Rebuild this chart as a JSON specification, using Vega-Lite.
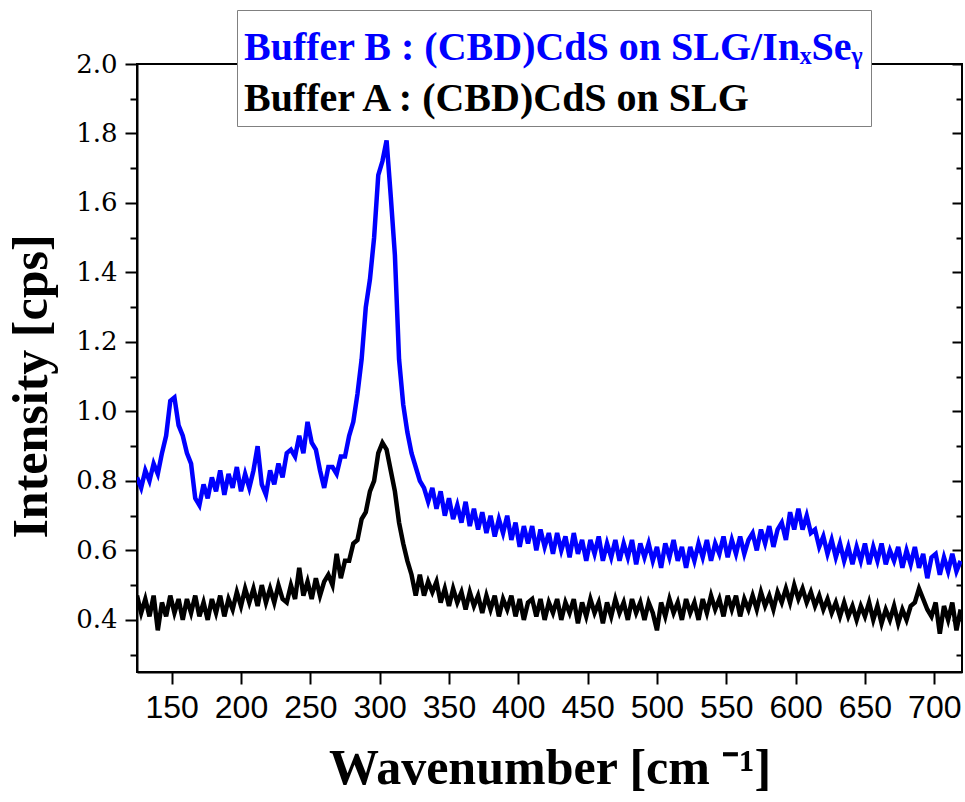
{
  "$schema": "https://vega.github.io/schema/vega-lite/v6.json",
  "width": 825,
  "height": 608,
  "autosize": {"type": "none"},
  "padding": {"left": 137, "top": 64, "right": 3, "bottom": 130},
  "background": "#ffffff",
  "config": {"view": {"stroke": "#000000", "strokeWidth": 2}},
  "data": {"values": [
    {"w":125,"B":0.81,"A":0.47},{"w":128,"B":0.78,"A":0.42},{"w":131,"B":0.83,"A":0.46},{"w":134,"B":0.80,"A":0.41},
    {"w":137,"B":0.85,"A":0.47},{"w":140,"B":0.82,"A":0.37},{"w":143,"B":0.88,"A":0.45},{"w":146,"B":0.93,"A":0.41},
    {"w":149,"B":1.03,"A":0.47},{"w":152,"B":1.04,"A":0.42},{"w":155,"B":0.96,"A":0.46},{"w":158,"B":0.93,"A":0.40},
    {"w":161,"B":0.88,"A":0.46},{"w":164,"B":0.85,"A":0.42},{"w":167,"B":0.75,"A":0.47},{"w":170,"B":0.73,"A":0.41},
    {"w":173,"B":0.79,"A":0.45},{"w":176,"B":0.75,"A":0.40},{"w":179,"B":0.81,"A":0.46},{"w":182,"B":0.77,"A":0.42},
    {"w":185,"B":0.83,"A":0.47},{"w":188,"B":0.76,"A":0.41},{"w":191,"B":0.82,"A":0.46},{"w":194,"B":0.78,"A":0.43},
    {"w":197,"B":0.84,"A":0.48},{"w":200,"B":0.77,"A":0.44},{"w":203,"B":0.82,"A":0.49},{"w":206,"B":0.78,"A":0.45},
    {"w":209,"B":0.83,"A":0.49},{"w":212,"B":0.90,"A":0.44},{"w":215,"B":0.79,"A":0.50},{"w":218,"B":0.76,"A":0.45},
    {"w":221,"B":0.83,"A":0.49},{"w":224,"B":0.79,"A":0.45},{"w":227,"B":0.85,"A":0.50},{"w":230,"B":0.81,"A":0.46},
    {"w":233,"B":0.88,"A":0.45},{"w":236,"B":0.89,"A":0.50},{"w":239,"B":0.87,"A":0.46},{"w":242,"B":0.93,"A":0.55},
    {"w":245,"B":0.88,"A":0.47},{"w":248,"B":0.97,"A":0.51},{"w":251,"B":0.91,"A":0.46},{"w":254,"B":0.89,"A":0.52},
    {"w":257,"B":0.83,"A":0.47},{"w":260,"B":0.78,"A":0.51},{"w":263,"B":0.84,"A":0.53},{"w":266,"B":0.84,"A":0.50},
    {"w":269,"B":0.82,"A":0.59},{"w":272,"B":0.87,"A":0.52},{"w":275,"B":0.87,"A":0.57},{"w":278,"B":0.93,"A":0.57},
    {"w":281,"B":0.97,"A":0.62},{"w":284,"B":1.05,"A":0.63},{"w":287,"B":1.15,"A":0.69},{"w":290,"B":1.30,"A":0.71},
    {"w":293,"B":1.38,"A":0.77},{"w":296,"B":1.50,"A":0.80},{"w":299,"B":1.68,"A":0.88},{"w":302,"B":1.72,"A":0.91},
    {"w":305,"B":1.78,"A":0.89},{"w":308,"B":1.62,"A":0.83},{"w":311,"B":1.45,"A":0.77},{"w":314,"B":1.15,"A":0.68},
    {"w":317,"B":1.02,"A":0.62},{"w":320,"B":0.94,"A":0.57},{"w":323,"B":0.88,"A":0.53},{"w":326,"B":0.84,"A":0.47},
    {"w":329,"B":0.80,"A":0.53},{"w":332,"B":0.78,"A":0.47},{"w":335,"B":0.74,"A":0.51},{"w":338,"B":0.78,"A":0.48},
    {"w":341,"B":0.72,"A":0.51},{"w":344,"B":0.77,"A":0.45},{"w":347,"B":0.70,"A":0.49},{"w":350,"B":0.75,"A":0.44},
    {"w":353,"B":0.69,"A":0.49},{"w":356,"B":0.73,"A":0.45},{"w":359,"B":0.68,"A":0.48},{"w":362,"B":0.74,"A":0.43},
    {"w":365,"B":0.67,"A":0.48},{"w":368,"B":0.72,"A":0.44},{"w":371,"B":0.66,"A":0.47},{"w":374,"B":0.71,"A":0.42},
    {"w":377,"B":0.65,"A":0.47},{"w":380,"B":0.70,"A":0.43},{"w":383,"B":0.64,"A":0.47},{"w":386,"B":0.69,"A":0.41},
    {"w":389,"B":0.65,"A":0.46},{"w":392,"B":0.70,"A":0.43},{"w":395,"B":0.63,"A":0.47},{"w":398,"B":0.68,"A":0.41},
    {"w":401,"B":0.61,"A":0.46},{"w":404,"B":0.67,"A":0.40},{"w":407,"B":0.62,"A":0.45},{"w":410,"B":0.67,"A":0.46},
    {"w":413,"B":0.60,"A":0.41},{"w":416,"B":0.66,"A":0.46},{"w":419,"B":0.61,"A":0.40},{"w":422,"B":0.65,"A":0.45},
    {"w":425,"B":0.59,"A":0.42},{"w":428,"B":0.65,"A":0.46},{"w":431,"B":0.60,"A":0.40},{"w":434,"B":0.64,"A":0.45},
    {"w":437,"B":0.58,"A":0.42},{"w":440,"B":0.65,"A":0.46},{"w":443,"B":0.59,"A":0.39},{"w":446,"B":0.63,"A":0.45},
    {"w":449,"B":0.57,"A":0.41},{"w":452,"B":0.63,"A":0.46},{"w":455,"B":0.59,"A":0.42},{"w":458,"B":0.64,"A":0.45},
    {"w":461,"B":0.57,"A":0.39},{"w":464,"B":0.62,"A":0.45},{"w":467,"B":0.58,"A":0.41},{"w":470,"B":0.63,"A":0.46},
    {"w":473,"B":0.57,"A":0.42},{"w":476,"B":0.62,"A":0.45},{"w":479,"B":0.58,"A":0.40},{"w":482,"B":0.63,"A":0.46},
    {"w":485,"B":0.56,"A":0.42},{"w":488,"B":0.62,"A":0.45},{"w":491,"B":0.58,"A":0.40},{"w":494,"B":0.62,"A":0.45},
    {"w":497,"B":0.57,"A":0.42},{"w":500,"B":0.61,"A":0.37},{"w":503,"B":0.55,"A":0.45},{"w":506,"B":0.62,"A":0.41},
    {"w":509,"B":0.58,"A":0.46},{"w":512,"B":0.63,"A":0.42},{"w":515,"B":0.57,"A":0.45},{"w":518,"B":0.61,"A":0.40},
    {"w":521,"B":0.55,"A":0.46},{"w":524,"B":0.61,"A":0.42},{"w":527,"B":0.57,"A":0.45},{"w":530,"B":0.62,"A":0.40},
    {"w":533,"B":0.58,"A":0.46},{"w":536,"B":0.63,"A":0.42},{"w":539,"B":0.57,"A":0.47},{"w":542,"B":0.62,"A":0.43},
    {"w":545,"B":0.59,"A":0.46},{"w":548,"B":0.64,"A":0.41},{"w":551,"B":0.58,"A":0.47},{"w":554,"B":0.63,"A":0.43},
    {"w":557,"B":0.59,"A":0.47},{"w":560,"B":0.64,"A":0.41},{"w":563,"B":0.59,"A":0.46},{"w":566,"B":0.63,"A":0.43},
    {"w":569,"B":0.65,"A":0.47},{"w":572,"B":0.60,"A":0.43},{"w":575,"B":0.66,"A":0.48},{"w":578,"B":0.62,"A":0.44},
    {"w":581,"B":0.67,"A":0.47},{"w":584,"B":0.61,"A":0.43},{"w":587,"B":0.66,"A":0.48},{"w":590,"B":0.68,"A":0.45},
    {"w":593,"B":0.63,"A":0.49},{"w":596,"B":0.71,"A":0.45},{"w":599,"B":0.66,"A":0.50},{"w":602,"B":0.72,"A":0.46},
    {"w":605,"B":0.66,"A":0.49},{"w":608,"B":0.70,"A":0.45},{"w":611,"B":0.65,"A":0.48},{"w":614,"B":0.66,"A":0.44},
    {"w":617,"B":0.61,"A":0.47},{"w":620,"B":0.64,"A":0.43},{"w":623,"B":0.59,"A":0.46},{"w":626,"B":0.63,"A":0.42},
    {"w":629,"B":0.58,"A":0.45},{"w":632,"B":0.62,"A":0.41},{"w":635,"B":0.57,"A":0.45},{"w":638,"B":0.61,"A":0.41},
    {"w":641,"B":0.56,"A":0.44},{"w":644,"B":0.61,"A":0.40},{"w":647,"B":0.57,"A":0.44},{"w":650,"B":0.62,"A":0.41},
    {"w":653,"B":0.56,"A":0.45},{"w":656,"B":0.61,"A":0.40},{"w":659,"B":0.57,"A":0.44},{"w":662,"B":0.62,"A":0.39},
    {"w":665,"B":0.56,"A":0.43},{"w":668,"B":0.60,"A":0.40},{"w":671,"B":0.57,"A":0.44},{"w":674,"B":0.61,"A":0.39},
    {"w":677,"B":0.55,"A":0.43},{"w":680,"B":0.60,"A":0.40},{"w":683,"B":0.56,"A":0.44},{"w":686,"B":0.61,"A":0.45},
    {"w":689,"B":0.55,"A":0.49},{"w":692,"B":0.59,"A":0.46},{"w":695,"B":0.52,"A":0.43},{"w":698,"B":0.58,"A":0.41},
    {"w":701,"B":0.59,"A":0.45},{"w":704,"B":0.53,"A":0.36},{"w":707,"B":0.58,"A":0.44},{"w":710,"B":0.54,"A":0.40},
    {"w":713,"B":0.59,"A":0.45},{"w":716,"B":0.54,"A":0.37},{"w":719,"B":0.57,"A":0.43}
  ]},
  "transform": [{"fold": ["B", "A"], "as": ["series", "value"]}],
  "encoding": {
    "x": {
      "field": "w", "type": "quantitative",
      "scale": {"domain": [125, 720], "nice": false, "zero": false},
      "axis": {
        "values": [150, 200, 250, 300, 350, 400, 450, 500, 550, 600, 650, 700],
        "grid": false,
        "domainColor": "#000000", "domainWidth": 2,
        "tickColor": "#000000", "tickWidth": 2, "tickSize": 12,
        "labelFont": "Liberation Sans Narrow, Liberation Sans", "labelFontSize": 32, "labelColor": "#000000",
        "labelPadding": 8, "labelFlush": false, "labelOverlap": false,
        "title": "Wavenumber [cm ⁻¹]",
        "titleFont": "Liberation Serif", "titleFontSize": 50, "titleFontWeight": "bold", "titleColor": "#000000",
        "titlePadding": 20
      }
    },
    "color": {
      "field": "series", "type": "nominal",
      "scale": {"domain": ["B", "A"], "range": ["#0000ff", "#000000"]},
      "legend": {
        "orient": "none", "legendX": 100, "legendY": -54,
        "title": null, "direction": "vertical",
        "fillColor": "#ffffff", "strokeColor": "#808080",
        "padding": 7, "rowPadding": -2,
        "symbolSize": 0, "symbolStrokeWidth": 0, "symbolOpacity": 0, "labelOffset": -40,
        "labelFont": "Liberation Serif", "labelFontSize": 40, "labelFontWeight": "bold", "labelLimit": 0,
        "labelExpr": "datum.value == 'B' ? 'Buffer B : (CBD)CdS on SLG/InₓSeᵧ' : 'Buffer A : (CBD)CdS on SLG'",
        "encode": {"labels": {"update": {"fill": {"signal": "datum.value == 'B' ? '#0000ff' : '#000000'"}, "dy": {"value": 10.5}}}}
      }
    }
  },
  "layer": [
    {
      "transform": [{"filter": "datum.series == 'A'"}],
      "mark": {"type": "line", "strokeWidth": 4.5, "clip": true},
      "encoding": {
        "y": {
          "field": "value", "type": "quantitative",
          "scale": {"domain": [0.25, 2.0], "nice": false, "zero": false},
          "axis": {
            "orient": "left",
            "values": [0.3, 0.4, 0.5, 0.6, 0.7, 0.8, 0.9, 1.0, 1.1, 1.2, 1.3, 1.4, 1.5, 1.6, 1.7, 1.8, 1.9, 2.0],
            "labelExpr": "round(datum.value * 10) % 2 == 0 ? format(datum.value, '.1f') : ''",
            "grid": false,
            "domainColor": "#000000", "domainWidth": 2,
            "tickColor": "#000000", "tickWidth": 2,
            "tickSize": {"condition": {"test": "round(datum.value * 10) % 2 == 0", "value": 12}, "value": 7},
            "labelFont": "DejaVu Serif", "labelFontSize": 26, "labelColor": "#000000",
            "labelPadding": 8, "labelFlush": false, "labelOverlap": false,
            "title": "Intensity [cps]",
            "titleFont": "Liberation Serif", "titleFontSize": 50, "titleFontWeight": "bold", "titleColor": "#000000",
            "titlePadding": 19, "titleY": 322
          }
        }
      }
    },
    {
      "transform": [{"filter": "datum.series == 'B'"}],
      "mark": {"type": "line", "strokeWidth": 4.5, "clip": true},
      "encoding": {
        "y": {
          "field": "value", "type": "quantitative",
          "scale": {"domain": [0.25, 2.0], "nice": false, "zero": false},
          "axis": {
            "orient": "right",
            "values": [0.3, 0.4, 0.5, 0.6, 0.7, 0.8, 0.9, 1.0, 1.1, 1.2, 1.3, 1.4, 1.5, 1.6, 1.7, 1.8, 1.9, 2.0],
            "labels": false, "domain": false, "grid": false, "title": null,
            "tickColor": "#000000", "tickWidth": 2,
            "tickSize": {"condition": {"test": "round(datum.value * 10) % 2 == 0", "value": -10}, "value": -6}
          }
        }
      }
    }
  ],
  "resolve": {"axis": {"y": "independent"}}
}
